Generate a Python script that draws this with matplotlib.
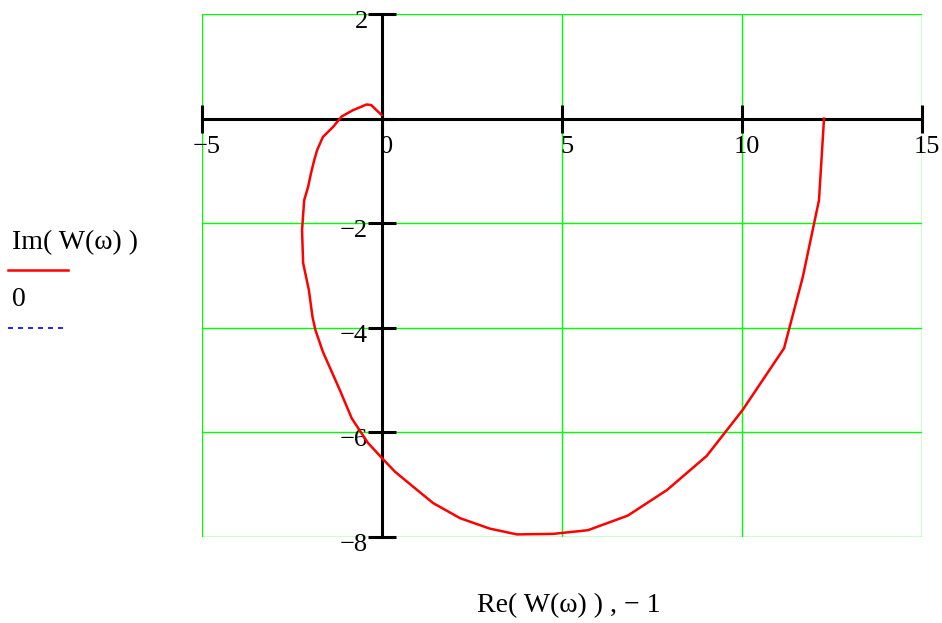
import matplotlib
matplotlib.use('Agg')
import matplotlib.pyplot as plt
from matplotlib.lines import Line2D
from matplotlib.transforms import offset_copy

plt.rcParams['font.family'] = ['Liberation Serif', 'DejaVu Serif']

# Nyquist hodograph W(omega)
re_w = [12.28, 12.14, 11.69, 11.17, 10.02, 9.02, 7.92, 6.83, 5.72, 4.75, 3.75,
        3.00, 2.17, 1.42, 0.87, 0.36, 0.00, -0.39, -0.84, -1.17, -1.64, -1.85,
        -1.93, -2.03, -2.19, -2.22, -2.16, -2.05, -1.97, -1.88, -1.80, -1.64,
        -1.36, -1.12, -0.81, -0.60, -0.43, -0.30, -0.15, -0.01]
im_w = [0.00, -1.56, -3.03, -4.39, -5.57, -6.45, -7.10, -7.59, -7.87, -7.94, -7.95,
        -7.84, -7.64, -7.35, -7.04, -6.75, -6.49, -6.20, -5.73, -5.19, -4.46, -4.04,
        -3.79, -3.28, -2.76, -2.13, -1.56, -1.30, -1.04, -0.79, -0.60, -0.35,
        -0.16, 0.04, 0.16, 0.22, 0.27, 0.26, 0.16, 0.07]
crit_re = [-1]
crit_im = [0]

x_ticks = [-5, 0, 5, 10, 15]
y_ticks = [2, 0, -2, -4, -6, -8]

fig = plt.figure(figsize=(9.42, 6.23), dpi=100)
ax = fig.add_axes([0.2144, 0.138, 0.7643, 0.8395])

ax.set_xlim(-5, 15)
ax.set_ylim(-8, 2)

# green grid incl. frame
for xv in x_ticks:
    ax.axvline(xv, color='#00ff00', lw=1, zorder=1)
for yv in y_ticks:
    ax.axhline(yv, color='#00ff00', lw=1, zorder=1)

for s in ['top', 'right']:
    ax.spines[s].set_visible(False)
ax.spines['left'].set_position(('data', 0))
ax.spines['bottom'].set_position(('data', 0))
ax.spines['left'].set_linewidth(2.2)
ax.spines['bottom'].set_linewidth(2.2)
ax.spines['left'].set_zorder(2)
ax.spines['bottom'].set_zorder(2)

ax.set_xticks(x_ticks)
ax.set_yticks(y_ticks)
ax.tick_params(direction='inout', length=20, width=2.2, labelbottom=False, labelleft=False)

for xv in x_ticks:
    tr = offset_copy(ax.transData, fig=fig, x=5, y=-17, units='dots')
    lab = str(xv).replace('-', '\u2212')
    ax.text(xv, 0, lab, transform=tr, ha='center', va='top', fontsize=19)
for yv in y_ticks:
    if yv == 0:
        continue
    tr = offset_copy(ax.transData, fig=fig, x=-14, y=-8, units='dots')
    lab = str(yv).replace('-', '\u2212')
    ax.text(0, yv, lab, transform=tr, ha='right', va='center', fontsize=19)

ax.plot(re_w, im_w, color='red', lw=1.8, zorder=3)
ax.plot(crit_re, crit_im, color='blue', lw=1.2, ls='--', zorder=3)

# Mathcad style legend on the left
fig.text(12 / 942, 1 - 243 / 623, 'Im( W(\u03c9) )', fontsize=20, va='center', ha='left')
fig.add_artist(Line2D([8 / 942, 68 / 942], [1 - 270 / 623, 1 - 270 / 623],
                      color='red', lw=1.8))
fig.text(12 / 942, 1 - 300 / 623, '0', fontsize=20, va='center', ha='left')
fig.add_artist(Line2D([8 / 942, 66 / 942], [1 - 328 / 623, 1 - 328 / 623],
                      color='blue', lw=1.2, ls=(0, (3, 3))))

fig.text(569 / 942, 1 - 606 / 623, 'Re( W(\u03c9) ) , \u2212 1', fontsize=20,
         ha='center', va='center')

fig.savefig('out.png', dpi=100)
